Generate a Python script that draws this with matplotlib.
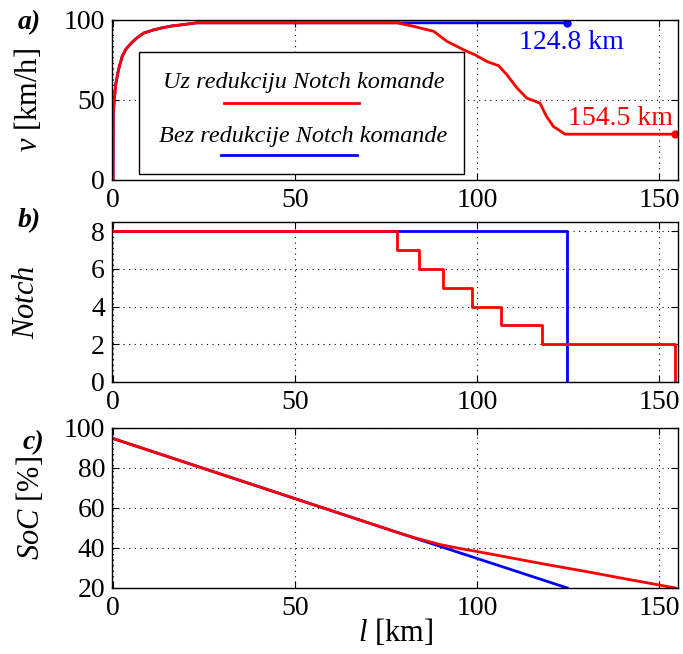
import matplotlib

matplotlib.use("Agg")
import matplotlib.pyplot as plt
from matplotlib.lines import Line2D
from matplotlib.patches import Rectangle

plt.rcParams["font.family"] = ["Liberation Serif", "DejaVu Serif"]
plt.rcParams["mathtext.fontset"] = "custom"
plt.rcParams["mathtext.rm"] = "Liberation Serif"
plt.rcParams["mathtext.it"] = "Liberation Serif:italic"

RED = "#ff0000"
BLUE = "#0000ff"

# a) brzina
v_l_red = [0, 0.05, 0.4, 0.75, 1.5, 2.5, 3.5, 5, 6.5, 8.5, 11, 13.3, 16, 19.3, 23, 78,
           82.6, 88.1, 91.7, 97.2, 99.5, 102.7, 106, 108.2, 111, 113.7, 117.3, 119.1,
           121, 124.2, 154.5]
v_red = [0, 41.7, 52, 60, 69, 77, 81.5, 85.4, 88.5, 91.7, 93.5, 94.8, 96, 96.9, 98, 98,
         95.8, 92.7, 86.5, 80.2, 78, 73.9, 71.2, 65.6, 57.3, 51, 47.9, 39.6,
         33.3, 28.5, 28.5]
v_l_blue = [0, 0.05, 0.4, 0.75, 1.5, 2.5, 3.5, 5, 6.5, 8.5, 11, 13.3, 16, 19.3, 23, 78, 124.8]
v_blue = [0, 41.7, 52, 60, 69, 77, 81.5, 85.4, 88.5, 91.7, 93.5, 94.8, 96, 96.9, 98, 98, 98]

# b) notch
n_l_red = [0, 77.9, 77.9, 84.1, 84.1, 90.7, 90.7, 98.5, 98.5, 106.7, 106.7, 117.9, 117.9, 154.5, 154.5]
n_red = [8, 8, 7, 7, 6, 6, 5, 5, 4, 4, 3, 3, 2, 2, 0]
n_l_blue = [0, 124.8, 124.8]
n_blue = [8, 8, 0]

# c) SoC
soc_l_red = [0, 20, 40, 60, 78, 82, 85, 90, 95, 100, 110, 120, 130, 140, 154.5]
soc_red = [94.6, 82.6, 70.6, 58.6, 47.8, 45.5, 44, 41.6, 39.8, 38.2, 34.8, 31.4, 28.2, 24.8, 20]
soc_l_blue = [0, 78, 124.8]
soc_blue = [94.6, 47.8, 20]

fig = plt.figure(figsize=(6.83, 6.54), dpi=100)
left, width, height = 0.164, 0.829, 0.245
ax_a = fig.add_axes([left, 0.725, width, height])
ax_b = fig.add_axes([left, 0.416, width, height])
ax_c = fig.add_axes([left, 0.101, width, height])

FS = 20
LFS = 22

for ax in (ax_a, ax_b, ax_c):
    ax.set_xlim(-0.3, 155.3)
    ax.set_xticks([0, 50, 100, 150])
    ax.grid(True, color="black", linestyle=(0, (1, 4)), linewidth=0.8)
    ax.tick_params(direction="in", top=True, right=True, labelsize=FS,
                   length=5, width=0.8, pad=5)
    ax.tick_params(axis="x", pad=6)
    for s in ax.spines.values():
        s.set_linewidth(1.0)

# a)
ax_a.plot(v_l_blue, v_blue, color=BLUE, lw=2)
ax_a.plot(v_l_red, v_red, color=RED, lw=2)
ax_a.plot([v_l_blue[-1]], [v_blue[-1]], "o", color=BLUE, ms=5)
ax_a.plot([v_l_red[-1]], [v_red[-1]], "o", color=RED, ms=5)
ax_a.text(126, 86, "124.8 km", color=BLUE, fontsize=FS, ha="center", va="center")
ax_a.text(154, 38.5, "154.5 km", color=RED, fontsize=FS, ha="right", va="center")
ax_a.set_ylim(0, 100)
ax_a.set_yticks([0, 50, 100])
ax_a.set_ylabel(r"$v$ [km/h]", fontsize=LFS)
ax_a.yaxis.set_label_coords(-0.12, 0.5)

# legenda
ax_a.add_patch(Rectangle((0.048, 0.0375), 0.574, 0.7625, transform=ax_a.transAxes,
                         facecolor="white", edgecolor="black", lw=1.0, zorder=5))
ax_a.text(0.338, 0.606, "Uz redukciju Notch komande", transform=ax_a.transAxes,
          fontsize=17.5, style="italic", ha="center", va="center", zorder=6)
ax_a.add_line(Line2D([0.198, 0.436], [0.48, 0.48], transform=ax_a.transAxes,
                     color=RED, lw=2, zorder=6))
ax_a.text(0.338, 0.27, "Bez redukcije Notch komande", transform=ax_a.transAxes,
          fontsize=17.5, style="italic", ha="center", va="center", zorder=6)
ax_a.add_line(Line2D([0.193, 0.432], [0.156, 0.156], transform=ax_a.transAxes,
                     color=BLUE, lw=2, zorder=6))

# b)
ax_b.plot(n_l_blue, n_blue, color=BLUE, lw=2)
ax_b.plot(n_l_red, n_red, color=RED, lw=2)
ax_b.set_ylim(0, 8.5)
ax_b.set_yticks([0, 2, 4, 6, 8])
ax_b.set_ylabel(r"$Notch$", fontsize=LFS)
ax_b.yaxis.set_label_coords(-0.125, 0.5)

# c)
ax_c.plot(soc_l_blue, soc_blue, color=BLUE, lw=2)
ax_c.plot(soc_l_red, soc_red, color=RED, lw=2)
ax_c.set_ylim(20, 100)
ax_c.set_yticks([20, 40, 60, 80, 100])
ax_c.set_ylabel(r"$SoC$ [%]", fontsize=LFS)
ax_c.yaxis.set_label_coords(-0.117, 0.5)
ax_c.set_xlabel(r"$l$ [km]", fontsize=LFS, labelpad=-3)

for txt, x, y in (("a)", 0.043, 0.965), ("b)", 0.043, 0.663), ("c)", 0.049, 0.323)):
    fig.text(x, y, txt, fontsize=20, fontweight="bold", style="italic",
             ha="center", va="center")

fig.savefig("out.png", dpi=100, facecolor="white")
